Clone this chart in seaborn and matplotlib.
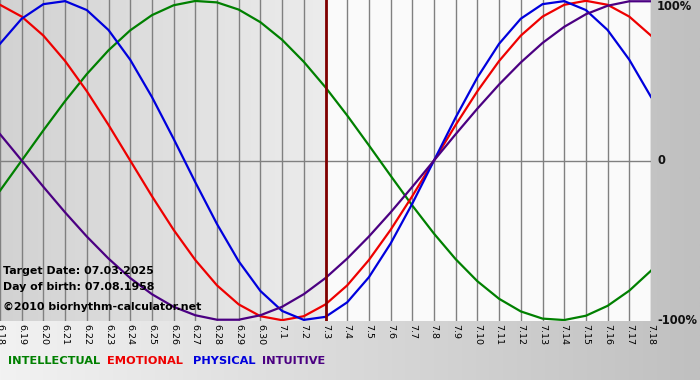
import numpy as np
import pandas as pd
import seaborn as sns
import matplotlib
matplotlib.use('Agg')
import matplotlib.pyplot as plt
from matplotlib.colors import LinearSegmentedColormap

# days shown on the chart
days = ['6.18', '6.19', '6.20', '6.21', '6.22', '6.23', '6.24', '6.25', '6.26', '6.27',
        '6.28', '6.29', '6.30', '7.1', '7.2', '7.3', '7.4', '7.5', '7.6', '7.7',
        '7.8', '7.9', '7.10', '7.11', '7.12', '7.13', '7.14', '7.15', '7.16', '7.17', '7.18']
target_day = '7.3'

# cycle values per day (-1 .. 1)
intellectual = [-0.189, 0, 0.189, 0.372, 0.541, 0.690, 0.815, 0.910, 0.972, 0.999, 0.990,
                0.945, 0.866, 0.756, 0.618, 0.458, 0.282, 0.095, -0.095, -0.282, -0.458,
                -0.618, -0.756, -0.866, -0.945, -0.990, -0.999, -0.972, -0.910, -0.815, -0.690]
emotional = [0.975, 0.901, 0.782, 0.623, 0.434, 0.223, 0, -0.223, -0.434, -0.623, -0.782,
             -0.901, -0.975, -1, -0.975, -0.901, -0.782, -0.623, -0.434, -0.223, 0,
             0.223, 0.434, 0.623, 0.782, 0.901, 0.975, 1, 0.975, 0.901, 0.782]
physical = [0.731, 0.888, 0.979, 0.998, 0.942, 0.817, 0.631, 0.398, 0.136, -0.136, -0.398,
            -0.631, -0.817, -0.942, -0.998, -0.979, -0.888, -0.731, -0.520, -0.270, 0,
            0.270, 0.520, 0.731, 0.888, 0.979, 0.998, 0.942, 0.817, 0.631, 0.398]
intuitive = [0.165, 0, -0.165, -0.325, -0.476, -0.614, -0.736, -0.837, -0.916, -0.969, -0.997,
             -0.997, -0.969, -0.916, -0.837, -0.736, -0.614, -0.476, -0.325, -0.165, 0,
             0.165, 0.325, 0.476, 0.614, 0.736, 0.837, 0.916, 0.969, 0.997, 0.997]

series_names = ['INTELLECTUAL', 'EMOTIONAL', 'PHYSICAL', 'INTUITIVE']
series_colors = ['#008000', '#ee0000', '#0000dd', '#4b0082']

df = pd.DataFrame({'day': np.arange(len(days)),
                   'INTELLECTUAL': intellectual, 'EMOTIONAL': emotional,
                   'PHYSICAL': physical, 'INTUITIVE': intuitive})
long_df = df.melt(id_vars='day', var_name='cycle', value_name='value')

plt.rcParams['font.family'] = ['DejaVu Sans']

fig = plt.figure(figsize=(7, 3.8), dpi=100)

# grey gradient background of the whole picture
bg = fig.add_axes([0, 0, 1, 1], zorder=0)
bg_cmap = LinearSegmentedColormap.from_list('bg', ['#f2f2f2', '#c0c0c0'])
bg.imshow(np.linspace(0, 1, 256).reshape(1, -1), aspect='auto', cmap=bg_cmap,
          extent=[0, 1, 0, 1])
bg.axis('off')

ax = fig.add_axes([0, 59 / 380, 651 / 700, 321 / 380], zorder=1)
ax.set_facecolor('#fafafa')
n = len(days)
t_idx = days.index(target_day)
ax.set_xlim(0, n - 1)
ax.set_ylim(-1.005, 1.005)

# past days shaded with a grey gradient
past_cmap = LinearSegmentedColormap.from_list('past', ['#d2d2d2', '#ececec'])
ax.imshow(np.linspace(0, 1, 256).reshape(1, -1), aspect='auto', cmap=past_cmap,
          extent=[0, t_idx, -1.1, 1.1], zorder=0)

for x in range(n):
    ax.axvline(x, color='#808080', lw=1, zorder=1)
ax.axhline(0, color='#808080', lw=1, zorder=1)

sns.lineplot(data=long_df, x='day', y='value', hue='cycle', hue_order=series_names,
             palette=series_colors, linewidth=1.6, legend=False, ax=ax, zorder=3)

ax.axvline(t_idx, color='#800000', lw=2, zorder=4)

ax.set_xticks(range(n))
ax.set_xticklabels(days, rotation=270, fontsize=6.8, color='#000000')
ax.tick_params(axis='x', length=0, pad=2)
ax.set_yticks([])
ax.set_xlabel('')
ax.set_ylabel('')
for s in ax.spines.values():
    s.set_visible(False)

# right side percentage labels
for val, lab in [(1, '100%'), (0, '0'), (-1, '-100%')]:
    ypx = 7 if val == 1 else 160.5 - val * 160.5
    fig.text(657 / 700, 1 - ypx / 380, lab, fontsize=8.3, fontweight='bold',
             va='center', ha='left', color='#111111', zorder=5)

# info text in the lower left
fig.text(3 / 700, 1 - 271 / 380, 'Target Date: 07.03.2025', fontsize=7.9,
         fontweight='bold', va='center', zorder=5)
fig.text(3 / 700, 1 - 287 / 380, 'Day of birth: 07.08.1958', fontsize=7.9,
         fontweight='bold', va='center', zorder=5)
fig.text(3 / 700, 1 - 307 / 380, '\u00a92010 biorhythm-calculator.net', fontsize=7.9,
         fontweight='bold', va='center', zorder=5)

# coloured legend words at the bottom
legend_x = [8, 107, 193, 262]
for name, col, lx in zip(series_names, series_colors, legend_x):
    fig.text(lx / 700, 1 - 361 / 380, name, color=col, fontsize=8.2,
             fontweight='bold', va='center', ha='left', zorder=5)

fig.savefig('out.png', dpi=100)
